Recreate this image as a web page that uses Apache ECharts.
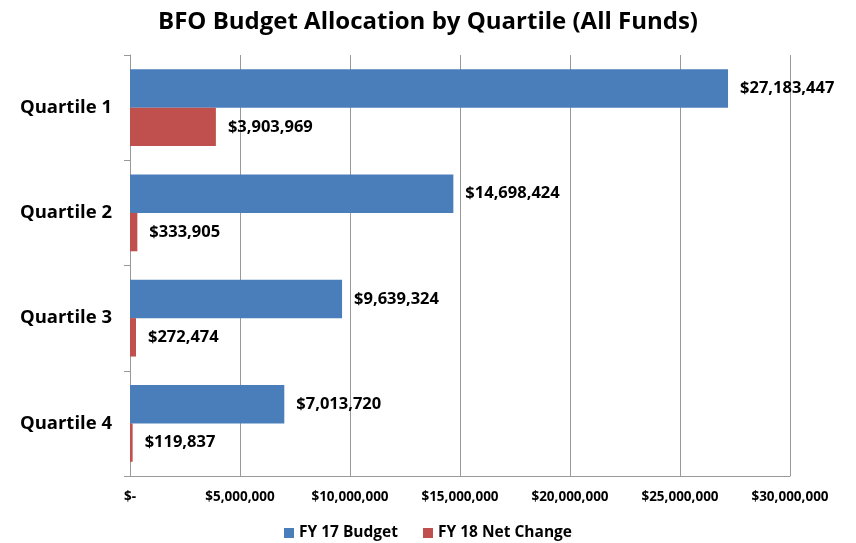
<!DOCTYPE html>
<html>
<head>
<meta charset="utf-8">
<script src="https://cdn.jsdelivr.net/npm/echarts@6/dist/echarts.min.js"></script>
<style>
  html, body { margin: 0; padding: 0; background: #fff; }
  #chart { width: 856px; height: 543px; }
</style>
</head>
<body>
<div id="chart"></div>
<script>
var quartiles = ['Quartile 1', 'Quartile 2', 'Quartile 3', 'Quartile 4'];
var budget17 = [27183447, 14698424, 9639324, 7013720];
var netChange18 = [3903969, 333905, 272474, 119837];
var seriesNames = ['FY 17 Budget', 'FY 18 Net Change'];

var font = 'Open Sans';

function money(v) {
    if (v === 0) return '$-';
    return '$' + v.toString().replace(/\B(?=(\d{3})+(?!\d))/g, ',');
}

var myChart = echarts.init(document.getElementById('chart'));
var option = {
    title: {
        text: 'BFO Budget Allocation by Quartile (All Funds)',
        left: 'center',
        top: 5,
        textStyle: { fontFamily: font, fontWeight: 'bold', fontSize: 24, color: '#000' }
    },
    legend: {
        data: seriesNames,
        top: 520,
        left: 'center',
        icon: 'rect',
        itemWidth: 10,
        itemHeight: 10,
        itemGap: 25,
        textStyle: { fontFamily: font, fontWeight: 'bold', fontSize: 15.5, color: '#000' }
    },
    grid: { left: 130, right: 66, top: 55, bottom: 67 },
    xAxis: {
        type: 'value',
        min: 0,
        max: 30000000,
        interval: 5000000,
        axisLine: { show: true, lineStyle: { color: '#999' } },
        axisTick: { show: false },
        splitLine: { show: true, lineStyle: { color: '#999', width: 1 } },
        axisLabel: {
            margin: 14,
            fontFamily: font, fontWeight: 'bold', fontSize: 13.5, color: '#000',
            formatter: money
        }
    },
    yAxis: {
        type: 'category',
        data: quartiles,
        inverse: true,
        axisLine: { show: true, lineStyle: { color: '#999' } },
        axisTick: { show: true, length: 6, lineStyle: { color: '#999' } },
        axisLabel: {
            margin: 18,
            fontFamily: font, fontWeight: 'bold', fontSize: 18.5, color: '#000'
        }
    },
    series: [{
        name: seriesNames[0],
        type: 'bar',
        data: budget17,
        barGap: '0%',
        barCategoryGap: '27%',
        itemStyle: { color: '#4a7ebb' },
        label: {
            show: true, position: 'right', distance: 12,
            fontFamily: font, fontWeight: 'bold', fontSize: 16.5, color: '#000',
            formatter: function (p) { return money(p.value); }
        }
    }, {
        name: seriesNames[1],
        type: 'bar',
        data: netChange18,
        itemStyle: { color: '#c0504d' },
        label: {
            show: true, position: 'right', distance: 12,
            fontFamily: font, fontWeight: 'bold', fontSize: 16.5, color: '#000',
            formatter: function (p) { return money(p.value); }
        }
    }]
};
myChart.setOption(option);
</script>
</body>
</html>
